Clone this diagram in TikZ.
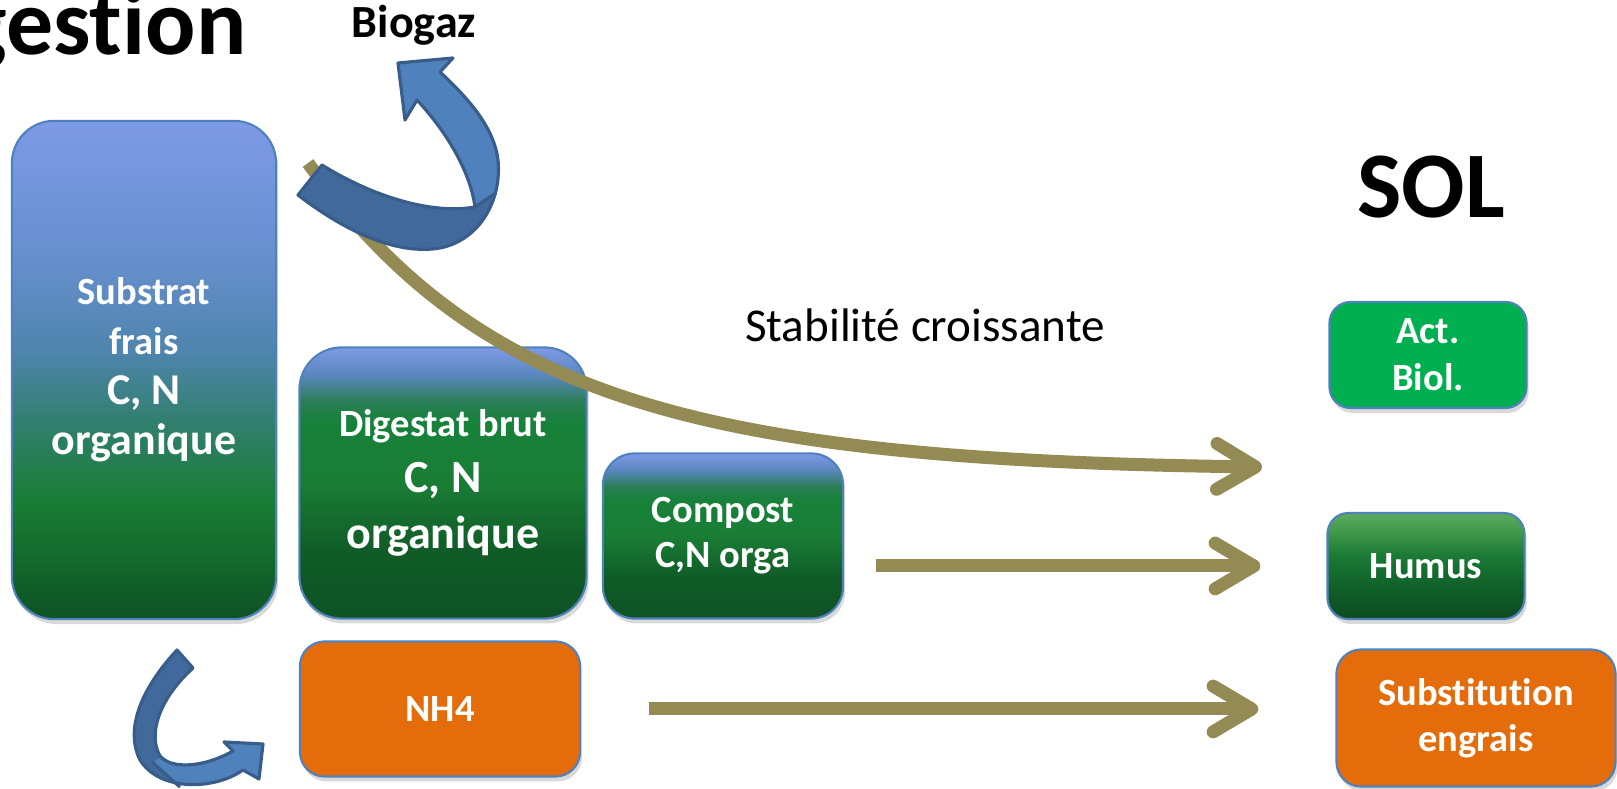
\documentclass[tikz,border=0pt]{standalone}
\usepackage{fontspec}
\setmainfont{Carlito}[Ligatures=NoCommon]
\usetikzlibrary{arrows.meta,shadows}

\definecolor{khaki}{HTML}{948A54}
\definecolor{boxline}{HTML}{4F81BD}
\definecolor{arrowblue}{HTML}{4F81BD}
\definecolor{arrowdark}{HTML}{41699C}
\definecolor{arrowline}{HTML}{385D8A}
\definecolor{nhorange}{HTML}{E46C0A}
\definecolor{biogreen}{HTML}{00B050}
% colours of the shaded boxes
\definecolor{darkgr}{HTML}{0E5224}
\definecolor{deepgr}{HTML}{13692C}
\definecolor{leafgr}{HTML}{1A7D35}
\definecolor{tealgr}{HTML}{327F70}
\definecolor{steelbl}{HTML}{4F85AE}
\definecolor{midbl}{HTML}{6890CF}
\definecolor{topbl}{HTML}{7E9AE6}
\definecolor{shadegr}{HTML}{105C28}
\definecolor{brightgr}{HTML}{17813A}
\definecolor{tealgrb}{HTML}{2A7E55}
\definecolor{steelblb}{HTML}{5A87BF}
\definecolor{humusdk}{HTML}{0D4A20}
\definecolor{humusmid}{HTML}{11602A}
\definecolor{humusgr}{HTML}{1A7A35}
\definecolor{humuslt}{HTML}{3E9648}
\definecolor{humustop}{HTML}{5CAB5E}

\pgfdeclareverticalshading{freshfill}{100bp}{color(0bp)=(darkgr); color(25bp)=(darkgr);
  color(31bp)=(deepgr); color(37bp)=(leafgr); color(45bp)=(tealgr); color(52bp)=(steelbl);
  color(62bp)=(midbl); color(75bp)=(topbl); color(100bp)=(topbl)}
\pgfdeclareverticalshading{digestfill}{100bp}{color(0bp)=(darkgr); color(25bp)=(darkgr);
  color(37.5bp)=(shadegr); color(50bp)=(leafgr); color(61bp)=(brightgr); color(65bp)=(tealgrb);
  color(70bp)=(steelblb); color(75bp)=(topbl); color(100bp)=(topbl)}
\pgfdeclareverticalshading{humusfill}{100bp}{color(0bp)=(humusdk); color(25bp)=(humusdk);
  color(40bp)=(humusmid); color(55bp)=(humusgr); color(65bp)=(humuslt); color(75bp)=(humustop);
  color(100bp)=(humustop)}

\newcommand\biogazpath{(322,165) -- (298,195) .. controls (350,235) and (400,255) .. (440,248)
  .. controls (480,240) and (502,200) .. (498,160) .. controls (494,128) and (470,100) .. (440,72)
  -- (453,58) -- (398,63) -- (405,120) -- (417,100) .. controls (445,130) and (470,170) .. (475,207)
  .. controls (430,215) and (370,195) .. (322,165) -- cycle}
\newcommand\nhpath{(177,650) .. controls (140,690) and (125,730) .. (140,760)
  .. controls (160,792) and (215,790) .. (243,770) -- (259,779) -- (263,744) -- (224,742)
  -- (233,751) .. controls (205,767) and (172,770) .. (160,756)
  .. controls (148,735) and (158,700) .. (193,668) -- cycle}

\tikzset{
  box/.style={draw=boxline, line width=0.6pt, text=white, align=center, inner sep=0pt,
    font=\bfseries\fontsize{10.95}{13.4}\selectfont,
    drop shadow={opacity=0.3, shadow xshift=0.6pt, shadow yshift=-1.4pt}},
  flow/.style={draw=khaki, line width=3.7pt,
    -{Straight Barb[length=11pt,width=13pt,line cap=round,line join=round]}},
  bluearrow/.style={draw=arrowline, line width=0.9pt, line join=round},
  title/.style={font=\bfseries\fontsize{26.7}{32}\selectfont, inner sep=0pt}
}

\begin{document}
\begin{tikzpicture}[x=0.01cm,y=-0.01cm]
\useasboundingbox (0,0) rectangle (1617,789);

% boxes
\node[box, shading=freshfill, rounded corners=12pt, minimum width=2.64cm, minimum height=4.98cm,
  font=\bfseries\fontsize{10.95}{14.2}\selectfont] (substrat) at (144,370)
  {Substrat\\frais\\{\fontsize{12.5}{14.2}\selectfont C, N}\\{\fontsize{12.5}{14.2}\selectfont organique}};
\node[box, shading=digestfill, rounded corners=12pt, minimum width=2.87cm, minimum height=2.71cm,
  font=\bfseries\fontsize{10.95}{16}\selectfont] (digestat) at (443,483)
  {Digestat brut\\{\fontsize{13.1}{16}\selectfont C, N}\\{\fontsize{13.1}{16}\selectfont organique}};
\node[box, shading=digestfill, rounded corners=9pt, minimum width=2.4cm, minimum height=1.65cm,
  font=\bfseries\fontsize{10.95}{12.8}\selectfont] (compost) at (723,536) {Compost\\C,N orga};
\node[box, fill=nhorange, rounded corners=7pt, minimum width=2.8cm, minimum height=1.35cm] (nh4) at (440,709) {NH4};
\node[box, fill=biogreen, rounded corners=6pt, minimum width=1.97cm, minimum height=1.06cm] (actbiol) at (1428,355) {Act.\\Biol.};
\node[box, shading=humusfill, rounded corners=6pt, minimum width=1.97cm, minimum height=1.06cm] (humus) at (1426,566) {Humus};
\node[box, fill=nhorange, rounded corners=7pt, minimum width=2.79cm, minimum height=1.37cm,
  font=\bfseries\fontsize{10.95}{13.1}\selectfont] (subst) at (1476,718) {Substitution\\engrais};

% flows towards the soil
\coordinate (curvestart) at (308,163);
\coordinate (curveend) at (1262,467);
\draw[flow] (curvestart) .. controls (480,400) and (700,460) .. (curveend);
\draw[flow, shorten <=0.32cm, shorten >=0.66cm] (compost.east |- humus.west) -- (humus.west);
\draw[flow, shorten <=0.68cm, shorten >=0.77cm] (nh4.east) -- (nh4.east -| subst.west);

% biogaz arrow
\fill[arrowblue] \biogazpath;
\begin{scope}
  \clip (280,150) -- (330,150) -- (474,208) -- (500,190) -- (520,190) -- (520,270) -- (280,270) -- cycle;
  \fill[arrowdark] \biogazpath;
\end{scope}
\draw[bluearrow] \biogazpath;
\draw[bluearrow] (475,207) -- (496,193);

% ammonium arrow
\fill[arrowblue] \nhpath;
\begin{scope}
  \clip (100,600) -- (230,600) -- (230,720) -- (150,763) -- (180,787) -- (100,800) -- cycle;
  \fill[arrowdark] \nhpath;
\end{scope}
\draw[bluearrow] \nhpath;
\draw[bluearrow] (152,762) -- (180,787);

% texts
\node[title, anchor=base east] (gestion) at (247,55) {gestion};
\node[title, anchor=base] (sol) at (1431,218) {SOL};
\node[anchor=base, inner sep=0pt, font=\bfseries\fontsize{13.1}{16}\selectfont] (biogaz) at (414,38) {Biogaz};
\node[anchor=base, inner sep=0pt, font=\fontsize{13.4}{16}\selectfont] (stab) at (925,342) {Stabilité croissante};
\end{tikzpicture}
\end{document}
